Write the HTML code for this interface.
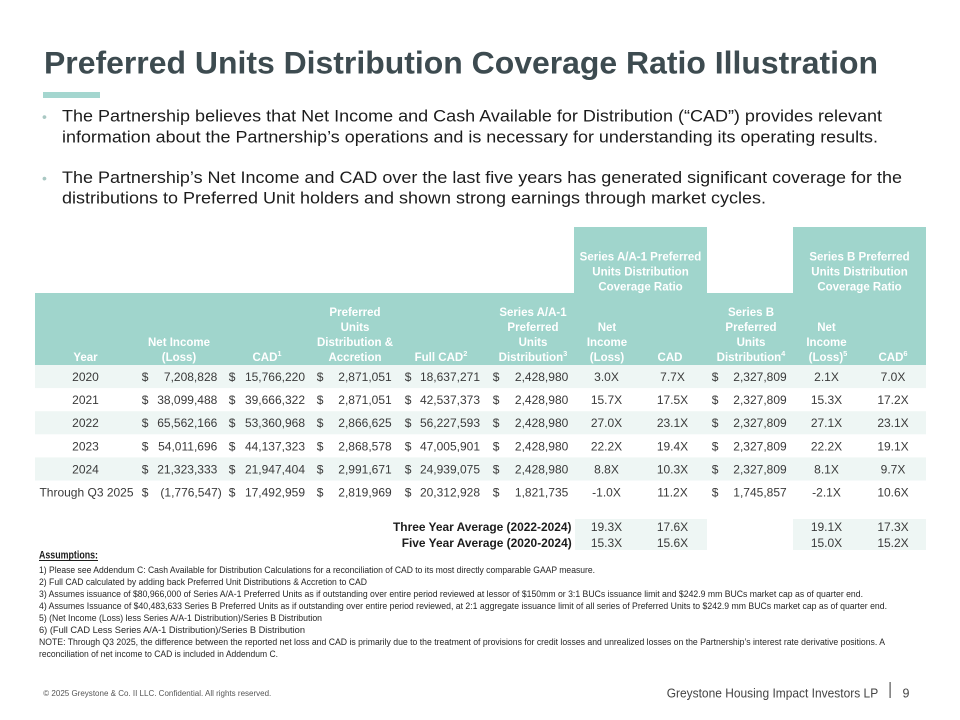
<!DOCTYPE html>
<html>
<head>
<meta charset="utf-8">
<style>
  html,body{margin:0;padding:0;background:#fff;}
  svg{display:block;}
  text{font-family:"Liberation Sans",Arial,sans-serif;}
  .h{font-weight:bold;font-size:11.5px;fill:#ffffff;text-anchor:middle;}
  .d{font-size:12px;fill:#3a3a3a;}
  .m{text-anchor:middle;}
  .e{text-anchor:end;}
  .fn{font-size:9.6px;fill:#262626;}
</style>
</head>
<body>
<svg width="960" height="720" viewBox="0 0 960 720" xmlns="http://www.w3.org/2000/svg">
  <rect x="0" y="0" width="960" height="720" fill="#ffffff"/>

  <!-- Title -->
  <text x="44" y="73.5" font-size="31.5" font-weight="bold" fill="#3d4b50" textLength="834" lengthAdjust="spacingAndGlyphs">Preferred Units Distribution Coverage Ratio Illustration</text>
  <rect x="43" y="92" width="57" height="6" fill="#a4d6cf"/>

  <!-- Bullets -->
  <text x="42" y="121.5" font-size="14" fill="#a9c8c3">•</text>
  <text x="62" y="121.5" font-size="17" fill="#1c1c1c" textLength="820" lengthAdjust="spacingAndGlyphs">The Partnership believes that Net Income and Cash Available for Distribution (“CAD”) provides relevant</text>
  <text x="62" y="142.5" font-size="17" fill="#1c1c1c" textLength="816" lengthAdjust="spacingAndGlyphs">information about the Partnership’s operations and is necessary for understanding its operating results.</text>
  <text x="42" y="183" font-size="14" fill="#a9c8c3">•</text>
  <text x="62" y="183" font-size="17" fill="#1c1c1c" textLength="840" lengthAdjust="spacingAndGlyphs">The Partnership’s Net Income and CAD over the last five years has generated significant coverage for the</text>
  <text x="62" y="203.5" font-size="17" fill="#1c1c1c" textLength="704" lengthAdjust="spacingAndGlyphs">distributions to Preferred Unit holders and shown strong earnings through market cycles.</text>

  <!-- Header backgrounds -->
  <rect x="574" y="227" width="133" height="67" fill="#a0d5cc"/>
  <rect x="793" y="227" width="133" height="67" fill="#a0d5cc"/>
  <rect x="35" y="293" width="891" height="72" fill="#a0d5cc"/>

  <!-- Upper header text -->
  <text class="h" x="640.5" y="260.5">Series A/A-1 Preferred</text>
  <text class="h" x="640.5" y="275.5">Units Distribution</text>
  <text class="h" x="640.5" y="290.5">Coverage Ratio</text>
  <text class="h" x="859.5" y="260.5">Series B Preferred</text>
  <text class="h" x="859.5" y="275.5">Units Distribution</text>
  <text class="h" x="859.5" y="290.5">Coverage Ratio</text>

  <!-- Lower header text -->
  <text class="h" x="85.5" y="361">Year</text>
  <text class="h" x="179" y="346">Net Income</text>
  <text class="h" x="179" y="361">(Loss)</text>
  <text class="h" x="267" y="361">CAD<tspan font-size="7.5" dy="-5">1</tspan></text>
  <text class="h" x="355" y="316">Preferred</text>
  <text class="h" x="355" y="331">Units</text>
  <text class="h" x="355" y="346">Distribution &amp;</text>
  <text class="h" x="355" y="361">Accretion</text>
  <text class="h" x="441" y="361">Full CAD<tspan font-size="7.5" dy="-5">2</tspan></text>
  <text class="h" x="533" y="316">Series A/A-1</text>
  <text class="h" x="533" y="331">Preferred</text>
  <text class="h" x="533" y="346">Units</text>
  <text class="h" x="533" y="361">Distribution<tspan font-size="7.5" dy="-5">3</tspan></text>
  <text class="h" x="607" y="331">Net</text>
  <text class="h" x="607" y="346">Income</text>
  <text class="h" x="607" y="361">(Loss)</text>
  <text class="h" x="670" y="361">CAD</text>
  <text class="h" x="751" y="316">Series B</text>
  <text class="h" x="751" y="331">Preferred</text>
  <text class="h" x="751" y="346">Units</text>
  <text class="h" x="751" y="361">Distribution<tspan font-size="7.5" dy="-5">4</tspan></text>
  <text class="h" x="826.5" y="331">Net</text>
  <text class="h" x="826.5" y="346">Income</text>
  <text class="h" x="828" y="361">(Loss)<tspan font-size="7.5" dy="-5">5</tspan></text>
  <text class="h" x="893" y="361">CAD<tspan font-size="7.5" dy="-5">6</tspan></text>

  <!-- Row shading -->
  <rect x="35" y="365" width="891" height="23.1" fill="#eef6f4"/>
  <rect x="35" y="411.2" width="891" height="23.1" fill="#eef6f4"/>
  <rect x="35" y="457.4" width="891" height="23.1" fill="#eef6f4"/>

  <!-- Data rows -->
  <g class="d">
    <!-- 2020 -->
    <text class="m" x="85.5" y="381">2020</text>
    <text x="141.7" y="381">$</text><text class="e" x="217.3" y="381">7,208,828</text>
    <text x="228.7" y="381">$</text><text class="e" x="305" y="381">15,766,220</text>
    <text x="316.7" y="381">$</text><text class="e" x="391.7" y="381">2,871,051</text>
    <text x="404.7" y="381">$</text><text class="e" x="480" y="381">18,637,271</text>
    <text x="492.7" y="381">$</text><text class="e" x="568.3" y="381">2,428,980</text>
    <text class="m" x="606.5" y="381">3.0X</text>
    <text class="m" x="672.5" y="381">7.7X</text>
    <text x="711.7" y="381">$</text><text class="e" x="786.7" y="381">2,327,809</text>
    <text class="m" x="826.5" y="381">2.1X</text>
    <text class="m" x="893" y="381">7.0X</text>

    <!-- 2021 -->
    <text class="m" x="85.5" y="404.1">2021</text>
    <text x="141.7" y="404.1">$</text><text class="e" x="217.3" y="404.1">38,099,488</text>
    <text x="228.7" y="404.1">$</text><text class="e" x="305" y="404.1">39,666,322</text>
    <text x="316.7" y="404.1">$</text><text class="e" x="391.7" y="404.1">2,871,051</text>
    <text x="404.7" y="404.1">$</text><text class="e" x="480" y="404.1">42,537,373</text>
    <text x="492.7" y="404.1">$</text><text class="e" x="568.3" y="404.1">2,428,980</text>
    <text class="m" x="606.5" y="404.1">15.7X</text>
    <text class="m" x="672.5" y="404.1">17.5X</text>
    <text x="711.7" y="404.1">$</text><text class="e" x="786.7" y="404.1">2,327,809</text>
    <text class="m" x="826.5" y="404.1">15.3X</text>
    <text class="m" x="893" y="404.1">17.2X</text>

    <!-- 2022 -->
    <text class="m" x="85.5" y="427.2">2022</text>
    <text x="141.7" y="427.2">$</text><text class="e" x="217.3" y="427.2">65,562,166</text>
    <text x="228.7" y="427.2">$</text><text class="e" x="305" y="427.2">53,360,968</text>
    <text x="316.7" y="427.2">$</text><text class="e" x="391.7" y="427.2">2,866,625</text>
    <text x="404.7" y="427.2">$</text><text class="e" x="480" y="427.2">56,227,593</text>
    <text x="492.7" y="427.2">$</text><text class="e" x="568.3" y="427.2">2,428,980</text>
    <text class="m" x="606.5" y="427.2">27.0X</text>
    <text class="m" x="672.5" y="427.2">23.1X</text>
    <text x="711.7" y="427.2">$</text><text class="e" x="786.7" y="427.2">2,327,809</text>
    <text class="m" x="826.5" y="427.2">27.1X</text>
    <text class="m" x="893" y="427.2">23.1X</text>

    <!-- 2023 -->
    <text class="m" x="85.5" y="450.3">2023</text>
    <text x="141.7" y="450.3">$</text><text class="e" x="217.3" y="450.3">54,011,696</text>
    <text x="228.7" y="450.3">$</text><text class="e" x="305" y="450.3">44,137,323</text>
    <text x="316.7" y="450.3">$</text><text class="e" x="391.7" y="450.3">2,868,578</text>
    <text x="404.7" y="450.3">$</text><text class="e" x="480" y="450.3">47,005,901</text>
    <text x="492.7" y="450.3">$</text><text class="e" x="568.3" y="450.3">2,428,980</text>
    <text class="m" x="606.5" y="450.3">22.2X</text>
    <text class="m" x="672.5" y="450.3">19.4X</text>
    <text x="711.7" y="450.3">$</text><text class="e" x="786.7" y="450.3">2,327,809</text>
    <text class="m" x="826.5" y="450.3">22.2X</text>
    <text class="m" x="893" y="450.3">19.1X</text>

    <!-- 2024 -->
    <text class="m" x="85.5" y="473.4">2024</text>
    <text x="141.7" y="473.4">$</text><text class="e" x="217.3" y="473.4">21,323,333</text>
    <text x="228.7" y="473.4">$</text><text class="e" x="305" y="473.4">21,947,404</text>
    <text x="316.7" y="473.4">$</text><text class="e" x="391.7" y="473.4">2,991,671</text>
    <text x="404.7" y="473.4">$</text><text class="e" x="480" y="473.4">24,939,075</text>
    <text x="492.7" y="473.4">$</text><text class="e" x="568.3" y="473.4">2,428,980</text>
    <text class="m" x="606.5" y="473.4">8.8X</text>
    <text class="m" x="672.5" y="473.4">10.3X</text>
    <text x="711.7" y="473.4">$</text><text class="e" x="786.7" y="473.4">2,327,809</text>
    <text class="m" x="826.5" y="473.4">8.1X</text>
    <text class="m" x="893" y="473.4">9.7X</text>

    <!-- Through Q3 2025 -->
    <text class="m" x="86.5" y="496.5">Through Q3 2025</text>
    <text x="141.7" y="496.5">$</text><text class="e" x="221.8" y="496.5">(1,776,547)</text>
    <text x="228.7" y="496.5">$</text><text class="e" x="305" y="496.5">17,492,959</text>
    <text x="316.7" y="496.5">$</text><text class="e" x="391.7" y="496.5">2,819,969</text>
    <text x="404.7" y="496.5">$</text><text class="e" x="480" y="496.5">20,312,928</text>
    <text x="492.7" y="496.5">$</text><text class="e" x="568.3" y="496.5">1,821,735</text>
    <text class="m" x="606.5" y="496.5">-1.0X</text>
    <text class="m" x="672.5" y="496.5">11.2X</text>
    <text x="711.7" y="496.5">$</text><text class="e" x="786.7" y="496.5">1,745,857</text>
    <text class="m" x="826.5" y="496.5">-2.1X</text>
    <text class="m" x="893" y="496.5">10.6X</text>
  </g>

  <!-- Averages -->
  <rect x="575" y="519" width="132" height="31" fill="#eef6f4"/>
  <rect x="793" y="519" width="133" height="31" fill="#eef6f4"/>
  <text x="393" y="531" font-size="12" font-weight="bold" fill="#1c1c1c" textLength="178.5" lengthAdjust="spacingAndGlyphs">Three Year Average (2022-2024)</text>
  <text x="401.7" y="547" font-size="12" font-weight="bold" fill="#1c1c1c" textLength="170" lengthAdjust="spacingAndGlyphs">Five Year Average (2020-2024)</text>
  <g class="d">
    <text class="m" x="606.5" y="531">19.3X</text>
    <text class="m" x="672.5" y="531">17.6X</text>
    <text class="m" x="826.5" y="531">19.1X</text>
    <text class="m" x="893" y="531">17.3X</text>
    <text class="m" x="606.5" y="547">15.3X</text>
    <text class="m" x="672.5" y="547">15.6X</text>
    <text class="m" x="826.5" y="547">15.0X</text>
    <text class="m" x="893" y="547">15.2X</text>
  </g>

  <!-- Assumptions -->
  <text x="39" y="558.5" font-size="11" font-weight="bold" fill="#1c1c1c" textLength="59" lengthAdjust="spacingAndGlyphs">Assumptions:</text>
  <rect x="39" y="560" width="59" height="1" fill="#1c1c1c"/>
  <text class="fn" x="39" y="572.8" textLength="556" lengthAdjust="spacingAndGlyphs">1) Please see Addendum C: Cash Available for Distribution Calculations for a reconciliation of CAD to its most directly comparable GAAP measure.</text>
  <text class="fn" x="39" y="584.8" textLength="328" lengthAdjust="spacingAndGlyphs">2) Full CAD calculated by adding back Preferred Unit Distributions &amp; Accretion to CAD</text>
  <text class="fn" x="39" y="596.8" textLength="824" lengthAdjust="spacingAndGlyphs">3) Assumes issuance of $80,966,000 of Series A/A-1 Preferred Units as if outstanding over entire period reviewed at lessor of $150mm or 3:1 BUCs issuance limit and $242.9 mm BUCs market cap as of quarter end.</text>
  <text class="fn" x="39" y="608.8" textLength="848" lengthAdjust="spacingAndGlyphs">4) Assumes Issuance of $40,483,633 Series B Preferred Units as if outstanding over entire period reviewed, at  2:1 aggregate issuance limit of all series of Preferred Units to $242.9 mm BUCs market cap as of quarter end.</text>
  <text class="fn" x="39" y="620.8" textLength="283" lengthAdjust="spacingAndGlyphs">5) (Net Income (Loss) less Series A/A-1 Distribution)/Series B Distribution</text>
  <text class="fn" x="39" y="632.8" textLength="266" lengthAdjust="spacingAndGlyphs">6) (Full CAD Less Series A/A-1 Distribution)/Series B Distribution</text>
  <text class="fn" x="39" y="644.8" textLength="846" lengthAdjust="spacingAndGlyphs">NOTE: Through Q3 2025, the difference between the reported net loss and CAD is primarily due to the treatment of provisions for credit losses and unrealized losses on the Partnership’s interest rate derivative positions. A</text>
  <text class="fn" x="39" y="656.8" textLength="239" lengthAdjust="spacingAndGlyphs">reconciliation of net income to CAD is included in Addendum C.</text>

  <!-- Footer -->
  <text x="43.3" y="696" font-size="8" fill="#555" textLength="228" lengthAdjust="spacingAndGlyphs">© 2025 Greystone &amp; Co. II LLC. Confidential. All rights reserved.</text>
  <text x="666.7" y="697.3" font-size="12.5" fill="#444" textLength="211.5" lengthAdjust="spacingAndGlyphs">Greystone Housing Impact Investors LP</text>
  <rect x="889.5" y="682" width="1.2" height="16" fill="#555"/>
  <text x="906" y="697.3" font-size="12.5" fill="#444" text-anchor="middle">9</text>
</svg>
</body>
</html>
